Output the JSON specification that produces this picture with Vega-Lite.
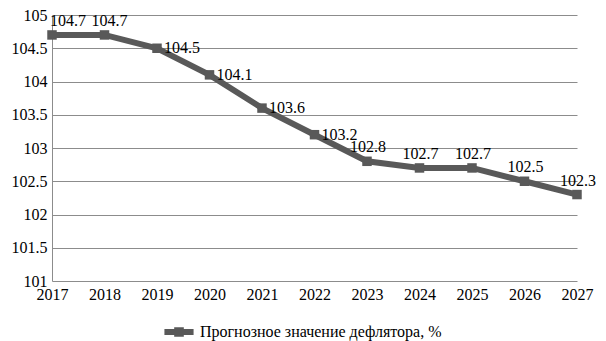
{
  "$schema": "https://vega.github.io/schema/vega-lite/v6.json",
  "width": 525,
  "height": 266,
  "autosize": {"type": "none"},
  "padding": {"left": 52, "top": 15, "right": 29, "bottom": 60},
  "background": "white",
  "config": {
    "font": "Liberation Serif",
    "view": {"stroke": null},
    "axis": {"labelFont": "Liberation Serif", "labelFontSize": 16, "labelColor": "#000", "ticks": false, "title": null}
  },
  "data": {"values": [
    {"year": 2017, "value": 104.7, "series": "Прогнозное значение дефлятора, %"},
    {"year": 2018, "value": 104.7, "series": "Прогнозное значение дефлятора, %"},
    {"year": 2019, "value": 104.5, "series": "Прогнозное значение дефлятора, %"},
    {"year": 2020, "value": 104.1, "series": "Прогнозное значение дефлятора, %"},
    {"year": 2021, "value": 103.6, "series": "Прогнозное значение дефлятора, %"},
    {"year": 2022, "value": 103.2, "series": "Прогнозное значение дефлятора, %"},
    {"year": 2023, "value": 102.8, "series": "Прогнозное значение дефлятора, %"},
    {"year": 2024, "value": 102.7, "series": "Прогнозное значение дефлятора, %"},
    {"year": 2025, "value": 102.7, "series": "Прогнозное значение дефлятора, %"},
    {"year": 2026, "value": 102.5, "series": "Прогнозное значение дефлятора, %"},
    {"year": 2027, "value": 102.3, "series": "Прогнозное значение дефлятора, %"}
  ]},
  "encoding": {
    "x": {"field": "year", "type": "quantitative", "scale": {"domain": [2017, 2027], "nice": false, "zero": false},
      "axis": {"values": [2017,2018,2019,2020,2021,2022,2023,2024,2025,2026,2027], "format": "d", "domain": false, "grid": false, "labelPadding": 5, "labelFlush": false}},
    "y": {"field": "value", "type": "quantitative", "scale": {"domain": [101, 105], "nice": false, "zero": false},
      "axis": {"values": [101,101.5,102,102.5,103,103.5,104,104.5,105], "format": "~g", "domain": true, "domainColor": "#8c8c8c", "grid": true, "gridColor": "#8c8c8c", "labelPadding": 5, "labelFlush": false}}
  },
  "layer": [
    {
      "mark": {"type": "line", "strokeWidth": 6, "strokeJoin": "miter"},
      "encoding": {
        "color": {"field": "series", "type": "nominal", "scale": {"range": ["#595959"]},
          "legend": {"title": null, "orient": "none", "legendX": 112, "legendY": 302, "labelFont": "Liberation Serif", "labelFontSize": 16, "labelColor": "#000", "symbolType": "M-1,-0.2H1V0.2H-1Z M-0.33,-0.33H0.33V0.33H-0.33Z", "symbolSize": 850, "symbolStrokeWidth": 0, "symbolFillColor": "#595959", "labelLimit": 400, "labelOffset": 6}}
      }
    },
    {
      "mark": {"type": "point", "shape": "square", "filled": true, "size": 90, "opacity": 1, "color": "#595959"}
    },
    {
      "transform": [{"filter": "datum.year == 2017"}],
      "mark": {"type": "text", "align": "left", "baseline": "bottom", "dx": -2, "dy": -6, "fontSize": 16, "font": "Liberation Serif"},
      "encoding": {"text": {"field": "value", "type": "quantitative", "format": ".1f"}}
    },
    {
      "transform": [{"filter": "datum.year == 2018"}],
      "mark": {"type": "text", "align": "center", "baseline": "bottom", "dx": 5, "dy": -6, "fontSize": 16, "font": "Liberation Serif"},
      "encoding": {"text": {"field": "value", "type": "quantitative", "format": ".1f"}}
    },
    {
      "transform": [{"filter": "datum.year >= 2019 && datum.year <= 2022"}],
      "mark": {"type": "text", "align": "left", "baseline": "middle", "dx": 7, "dy": 0, "fontSize": 16, "font": "Liberation Serif"},
      "encoding": {"text": {"field": "value", "type": "quantitative", "format": ".1f"}}
    },
    {
      "transform": [{"filter": "datum.year >= 2023"}],
      "mark": {"type": "text", "align": "center", "baseline": "bottom", "dx": 1, "dy": -6, "fontSize": 16, "font": "Liberation Serif"},
      "encoding": {"text": {"field": "value", "type": "quantitative", "format": ".1f"}}
    }
  ]
}
